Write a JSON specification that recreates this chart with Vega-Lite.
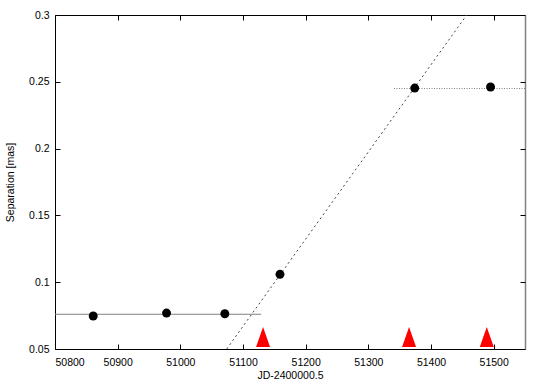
{
  "$schema": "https://vega.github.io/schema/vega-lite/v6.json",
  "width": 470,
  "height": 334,
  "autosize": {"type": "none"},
  "padding": {"left": 55, "top": 15, "right": 20, "bottom": 34},
  "background": "white",
  "config": {
    "view": {"stroke": null},
    "font": "Liberation Sans",
    "axis": {"grid": false, "domainColor": "black", "tickColor": "black", "labelFontSize": 10.5, "titleFontSize": 10.5, "titleFontWeight": "normal", "labelColor": "black", "titleColor": "black", "tickWidth": 1}
  },
  "datasets": {
    "points": [
      {"jd": 50861, "sep": 0.0747},
      {"jd": 50978, "sep": 0.0769},
      {"jd": 51071, "sep": 0.0764},
      {"jd": 51159, "sep": 0.1059},
      {"jd": 51374, "sep": 0.2453},
      {"jd": 51495, "sep": 0.2461}
    ],
    "markers": [
      {"jd": 51132, "sep": 0.059},
      {"jd": 51365, "sep": 0.059},
      {"jd": 51489, "sep": 0.059}
    ],
    "low": [{"jd": 50800, "jd2": 51129, "sep": 0.076}],
    "high": [{"jd": 51341, "jd2": 51550, "sep": 0.245}],
    "trend": [{"jd": 51074, "sep": 0.05}, {"jd": 51457, "sep": 0.3}]
  },
  "layer": [
    {
      "data": {"name": "low"},
      "mark": {"type": "rule", "color": "#808080", "strokeWidth": 1},
      "encoding": {
        "x": {"field": "jd", "type": "quantitative", "scale": {"domain": [50800, 51550], "nice": false, "zero": false}, "axis": {"orient": "bottom", "ticks": false, "values": [50800, 50900, 51000, 51100, 51200, 51300, 51400, 51500], "format": "d", "title": "JD-2400000.5", "labelPadding": 8, "titlePadding": 3}},
        "x2": {"field": "jd2"},
        "y": {"field": "sep", "type": "quantitative", "scale": {"domain": [0.05, 0.3], "nice": false, "zero": false}, "axis": {"orient": "left", "ticks": false, "values": [0.05, 0.1, 0.15, 0.2, 0.25, 0.3], "format": ".2~f", "title": "Separation [mas]", "labelPadding": 6, "titlePadding": 13}}
      }
    },
    {
      "data": {"name": "high"},
      "mark": {"type": "rule", "color": "#808080", "strokeWidth": 1, "strokeDash": [1, 1.5]},
      "encoding": {
        "x": {"field": "jd", "type": "quantitative", "axis": {"orient": "top", "ticks": false, "labels": false, "title": null}},
        "x2": {"field": "jd2"},
        "y": {"field": "sep", "type": "quantitative", "axis": {"orient": "right", "ticks": false, "labels": false, "title": null, "domainColor": "#808080", "domainWidth": 1.5}}
      }
    },
    {
      "data": {"name": "trend"},
      "mark": {"type": "line", "color": "#444444", "strokeWidth": 1, "strokeDash": [2, 3], "clip": true},
      "encoding": {
        "x": {"field": "jd", "type": "quantitative", "axis": {"orient": "bottom", "offset": -5, "tickSize": 5, "domain": false, "labels": false, "title": null, "values": [50800, 50900, 51000, 51100, 51200, 51300, 51400, 51500]}},
        "y": {"field": "sep", "type": "quantitative", "axis": {"orient": "left", "offset": -5, "tickSize": 5, "domain": false, "labels": false, "title": null, "values": [0.05, 0.1, 0.15, 0.2, 0.25, 0.3]}}
      }
    },
    {
      "data": {"name": "points"},
      "mark": {"type": "point", "shape": "circle", "filled": true, "color": "black", "opacity": 1, "size": 80},
      "encoding": {
        "x": {"field": "jd", "type": "quantitative", "axis": {"orient": "top", "offset": -5, "tickSize": 5, "domain": false, "labels": false, "title": null, "values": [50800, 50900, 51000, 51100, 51200, 51300, 51400, 51500]}},
        "y": {"field": "sep", "type": "quantitative", "axis": {"orient": "right", "offset": -5, "tickSize": 5, "domain": false, "labels": false, "title": null, "values": [0.05, 0.1, 0.15, 0.2, 0.25, 0.3]}}
      }
    },
    {
      "data": {"name": "markers"},
      "mark": {"type": "point", "shape": "M0,-1L0.7,1L-0.7,1Z", "filled": true, "color": "#ff0000", "opacity": 1, "size": 400},
      "encoding": {
        "x": {"field": "jd", "type": "quantitative", "axis": null},
        "y": {"field": "sep", "type": "quantitative", "axis": null}
      }
    }
  ],
  "resolve": {"axis": {"x": "independent", "y": "independent"}}
}
